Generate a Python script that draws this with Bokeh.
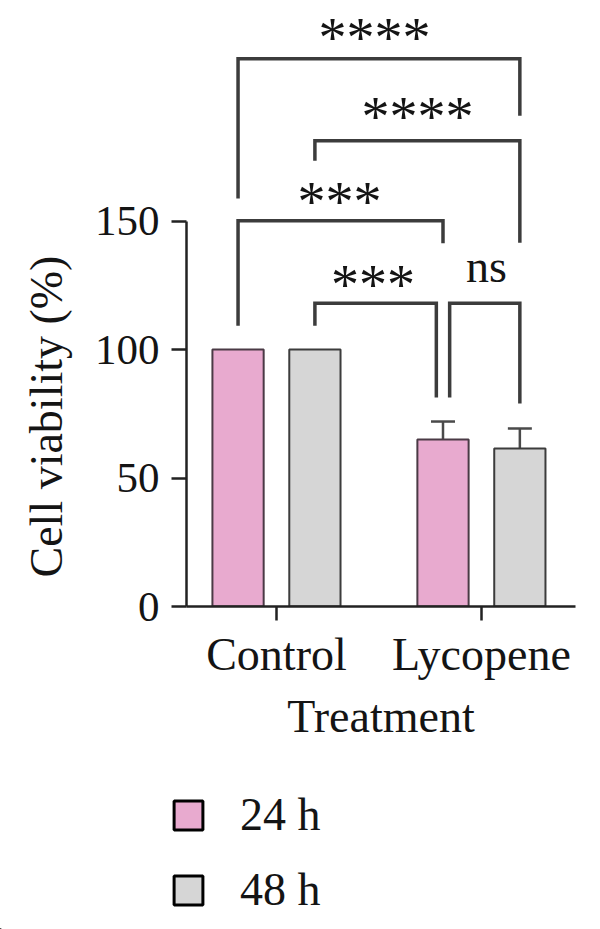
from bokeh.plotting import figure
from bokeh.layouts import column
from bokeh.models import (Range1d, FixedTicker, ColumnDataSource, Whisker, TeeHead,
                          Legend, LegendItem, Title)
from bokeh.core.properties import value
from bokeh.embed import file_html
from bokeh.resources import INLINE

# --- data -------------------------------------------------------------
treatments = ["Control", "Lycopene"]
viability_24h = [100, 65.0]
viability_48h = [100, 61.5]
sd_24h = [0, 7.0]
sd_48h = [0, 7.8]
y_ticks = [0, 50, 100, 150]
series_labels = ["24 h", "48 h"]

# significance brackets: (left x, right x, bar level, left leg end, right leg end)
bracket_left = [0.8125, 1.1875, 0.8125, 1.1875, 1.845]
bracket_right = [2.1875, 2.1875, 1.8125, 1.78, 2.1875]
bracket_top = [213.2, 181.3, 150.2, 118.0, 118.0]
bracket_left_end = [158.8, 173.5, 109.3, 109.3, 81.4]
bracket_right_end = [191.0, 141.6, 141.4, 81.4, 79.0]
bracket_text = ["****", "****", "***", "***", "ns"]
bracket_text_x = [1.478, 1.688, 1.307, 1.471, 2.024]
bracket_text_y = [221.3, 190.7, 157.6, 125.3, 132.5]

# --- styling ----------------------------------------------------------
FONT = "Liberation Serif"
PINK = "#e8aacf"
GREY = "#d6d6d6"
INK = "#141414"
LINE = "#3c3c3c"
BAR_W = 0.25
DODGE = 0.1875

p = figure(width=600, height=760, output_backend="svg", toolbar_location=None,
           x_range=Range1d(0.561, 2.459), y_range=Range1d(0, 232.0),
           min_border_left=186, min_border_right=25, min_border_top=10,
           min_border_bottom=154)
p.outline_line_color = None
p.grid.visible = False
p.background_fill_color = "white"
p.border_fill_color = "white"

pos = [i + 1 for i in range(len(treatments))]
src = ColumnDataSource(dict(
    x24=[c - DODGE for c in pos], x48=[c + DODGE for c in pos],
    v24=viability_24h, v48=viability_48h))

p.vbar(x="x24", top="v24", width=BAR_W, source=src, fill_color=PINK,
       line_color="#4a3a45", line_width=2)
p.vbar(x="x48", top="v48", width=BAR_W, source=src, fill_color=GREY,
       line_color=LINE, line_width=2)

# error bars (only where a spread was measured)
ex, lo, hi = [], [], []
for c, v, s in zip(pos, viability_24h, sd_24h):
    if s > 0:
        ex.append(c - DODGE); lo.append(v - s); hi.append(v + s)
for c, v, s in zip(pos, viability_48h, sd_48h):
    if s > 0:
        ex.append(c + DODGE); lo.append(v - s); hi.append(v + s)
err_src = ColumnDataSource(dict(x=ex, lower=lo, upper=hi))
p.add_layout(Whisker(base="x", lower="lower", upper="upper", source=err_src,
                     line_color="#4a4a4a", line_width=2.5,
                     upper_head=TeeHead(size=24, line_color="#4a4a4a", line_width=2.5),
                     lower_head=TeeHead(size=24, line_color="#4a4a4a", line_width=2.5)))

# significance brackets
xs = [[l, l, r, r] for l, r in zip(bracket_left, bracket_right)]
ys = [[a, t, t, b] for a, t, b in zip(bracket_left_end, bracket_top, bracket_right_end)]
p.multi_line(xs=xs, ys=ys, line_color=LINE, line_width=3.5, line_join="miter")

star_idx = [i for i, t in enumerate(bracket_text) if t != "ns"]
ns_idx = [i for i, t in enumerate(bracket_text) if t == "ns"]
p.text(x=[bracket_text_x[i] for i in star_idx], y=[bracket_text_y[i] for i in star_idx],
       text=[bracket_text[i] for i in star_idx], text_font=value(FONT),
       text_font_size="56px", text_align="center", text_baseline="alphabetic",
       text_color=INK)
p.text(x=[bracket_text_x[i] for i in ns_idx], y=[bracket_text_y[i] for i in ns_idx],
       text=[bracket_text[i] for i in ns_idx], text_font=value(FONT),
       text_font_size="46px", text_align="center", text_baseline="alphabetic",
       text_color=INK)

# axes
for ax in (p.xaxis[0], p.yaxis[0]):
    ax.axis_line_width = 2.5
    ax.axis_line_color = "#222222"
    ax.major_tick_line_width = 2.5
    ax.major_tick_line_color = "#222222"
    ax.major_tick_in = 0
    ax.minor_tick_in = 0
    ax.minor_tick_out = 0
    ax.major_label_text_font = FONT
    ax.major_label_text_color = INK
    ax.axis_label_text_font = FONT
    ax.axis_label_text_font_style = "normal"
    ax.axis_label_text_font_size = "46px"
    ax.axis_label_text_color = INK

yax = p.yaxis[0]
yax.ticker = FixedTicker(ticks=y_ticks)
yax.bounds = (0, 150)
yax.major_tick_out = 15
yax.major_label_text_font_size = "43px"
yax.major_label_standoff = 12

# y axis title, starting just above the foot of the axis
p.add_layout(Title(text="Cell viability (%)", align="left", offset=29,
                   vertical_align="top", standoff=36,
                   text_font=FONT, text_font_style="normal", text_font_size="46px",
                   text_color=INK), "left")

xax = p.xaxis[0]
xax.ticker = FixedTicker(ticks=pos)
xax.major_label_overrides = {c: t for c, t in zip(pos, treatments)}
xax.major_tick_out = 14
xax.major_label_text_font_size = "46px"
xax.major_label_standoff = 8
xax.axis_label = "Treatment"
xax.axis_label_standoff = 8

# legend panel underneath the chart
lg = figure(width=600, height=169, output_backend="svg", toolbar_location=None,
            x_range=Range1d(0, 1), y_range=Range1d(0, 1),
            min_border=0, outline_line_color=None, frame_align=False)
lg.axis.visible = False
lg.grid.visible = False
# swatch renderers sit outside the visible range; only their legend glyphs show
sw24 = lg.vbar(x=[-1], top=[-1], bottom=[-2], width=0.1, fill_color=PINK,
               line_color="black", line_width=3)
sw48 = lg.vbar(x=[-1], top=[-1], bottom=[-2], width=0.1, fill_color=GREY,
               line_color="black", line_width=3)
legend = Legend(items=[LegendItem(label=series_labels[0], renderers=[sw24]),
                       LegendItem(label=series_labels[1], renderers=[sw48])],
                location=(170, 13), orientation="vertical",
                glyph_width=36, glyph_height=36, label_standoff=34, spacing=22,
                padding=0, margin=0, border_line_color=None,
                background_fill_alpha=0, label_text_font=FONT,
                label_text_font_size="46px", label_text_color=INK)
lg.add_layout(legend)

open("out.html", "w").write(file_html(column(p, lg), INLINE))
